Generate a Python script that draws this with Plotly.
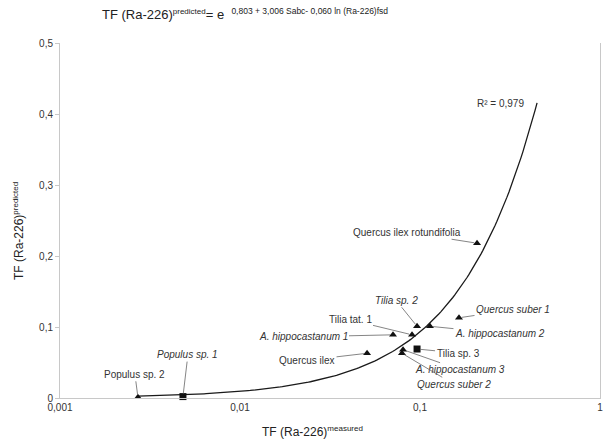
import numpy as np
import plotly.graph_objects as go

# ---- data ----
names = ["Populus sp. 2", "Populus sp. 1", "Quercus ilex", "A. hippocastanum 1",
         "Tilia tat. 1", "Tilia sp. 2", "A. hippocastanum 2", "Quercus suber 1",
         "Quercus ilex rotundifolia", "A. hippocastanum 3", "Quercus suber 2", "Tilia sp. 3"]
tf_measured = [0.00271, 0.00482, 0.0508, 0.0708, 0.0903, 0.0963, 0.1136, 0.1647,
               0.2074, 0.0805, 0.0794, 0.0963]
tf_predicted = [0.001, 0.002, 0.063, 0.089, 0.089, 0.101, 0.101, 0.113,
                0.218, 0.068, 0.063, 0.069]
marker_kind = ["triangle-up", "square", "triangle-up", "triangle-up", "triangle-up",
               "triangle-up", "triangle-up", "triangle-up", "triangle-up",
               "triangle-up", "triangle-up", "square"]
italic = [False, True, False, True, False, True, True, True, False, True, True, False]

# trend line (linear fit shown on a log x axis)
trend_slope = 0.93
trend_intercept = 0.0
trend_x_start = 0.00271
trend_x_end = 0.447
r2_text = "R² = 0,979"

x_tickvals = [0.001, 0.01, 0.1, 1]
x_ticktext = ["0,001", "0,01", "0,1", "1"]
y_tickvals = [0, 0.1, 0.2, 0.3, 0.4, 0.5]
y_ticktext = ["0", "0,1", "0,2", "0,3", "0,4", "0,5"]

# label offsets in pixels (label centre relative to point)
label_offsets = [(-3, -23), (5, -42), (-60, 7), (-90, 2), (-62, -15), (-21, -26),
                 (70, 7), (54, -8), (-70, -11), (57, 20), (52, 31), (41, 4)]

FONT = "Liberation Sans, Arial, sans-serif"

fig = go.Figure()

tx = np.geomspace(trend_x_start, trend_x_end, 200)
ty = trend_slope * tx + trend_intercept
fig.add_trace(go.Scatter(x=tx, y=ty, mode="lines",
                         line=dict(color="#1a1a1a", width=1.3),
                         hoverinfo="skip", showlegend=False))

fig.add_trace(go.Scatter(x=tf_measured, y=tf_predicted, mode="markers",
                         marker=dict(symbol=marker_kind, color="#111", size=7,
                                     line=dict(width=0)),
                         text=names, showlegend=False, cliponaxis=False))

for n, xv, yv, it, (ax, ay) in zip(names, tf_measured, tf_predicted, italic, label_offsets):
    txt = f"<i>{n}</i>" if it else n
    fig.add_annotation(x=np.log10(xv), y=yv, xref="x", yref="y", text=txt,
                       showarrow=True, arrowhead=0, arrowwidth=0.8, arrowcolor="#666",
                       ax=ax, ay=ay, standoff=3,
                       font=dict(family=FONT, size=10, color="#333"))

# R^2 label near the end of the trend line
fig.add_annotation(x=np.log10(trend_x_end), y=trend_slope * trend_x_end + trend_intercept,
                   xref="x", yref="y", text=r2_text, showarrow=False,
                   xanchor="right", yanchor="middle", xshift=-11, yshift=-1,
                   font=dict(family=FONT, size=10, color="#333"))

# title formula
fig.add_annotation(xref="paper", yref="paper", x=0.074, y=1.082, xanchor="left", yanchor="middle",
                   showarrow=False,
                   text=("TF (Ra-226)<sup><span style='font-size:8px'>predicted</span></sup>= e  "
                         "<sup><span style='font-size:8.5px'>0,803 + 3,006 Sabc- 0,060 ln (Ra-226)fsd</span></sup>"),
                   font=dict(family=FONT, size=13, color="#222"))

# axis titles
fig.add_annotation(xref="paper", yref="paper", x=0.468, y=-0.095, xanchor="center", yanchor="middle",
                   showarrow=False,
                   text="TF (Ra-226)<sup><span style='font-size:8px'>measured</span></sup>",
                   font=dict(family=FONT, size=12, color="#222"))
fig.add_annotation(xref="paper", yref="paper", x=-0.078, y=0.47, xanchor="center", yanchor="middle",
                   showarrow=False, textangle=-90,
                   text="TF (Ra-226)<sup><span style='font-size:8px'>predicted</span></sup>",
                   font=dict(family=FONT, size=12, color="#222"))

fig.update_layout(
    template="none",
    width=605, height=441,
    margin=dict(l=60, r=5, t=43, b=43, autoexpand=False),
    paper_bgcolor="white", plot_bgcolor="white",
    font=dict(family=FONT, size=10, color="#333"),
    xaxis=dict(type="log", range=[-3, 0], tickvals=x_tickvals, ticktext=x_ticktext,
               automargin=False,
               showgrid=False, zeroline=False, showline=True, linecolor="#c8c8c8",
               linewidth=1, ticks="", ticklen=0),
    yaxis=dict(range=[0, 0.5], tickvals=y_tickvals, ticktext=y_ticktext,
               automargin=False,
               showgrid=False, zeroline=False, showline=True, linecolor="#c8c8c8",
               linewidth=1, mirror=True, ticks="outside", ticklen=4, tickcolor="#c8c8c8"),
)

fig.write_html("out.html", config={"displayModeBar": False},
               post_script="document.body.style.margin='0';document.body.style.padding='0';")
